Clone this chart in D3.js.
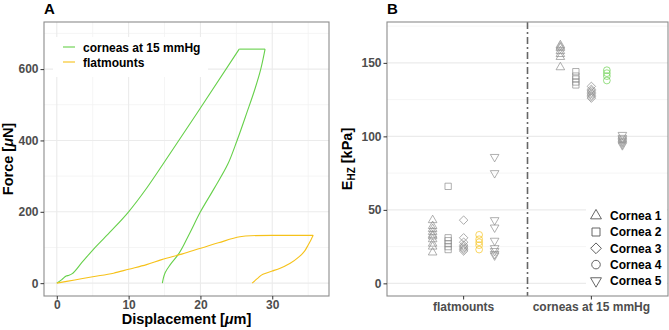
<!DOCTYPE html>
<html>
<head>
<meta charset="utf-8">
<script src="https://cdn.jsdelivr.net/npm/d3@7"></script>
<style>
  body { margin: 0; background: #fff; }
  svg { font-family: "Liberation Sans", Arial, sans-serif; }
</style>
</head>
<body>
<script>
// ---- panel A: force / displacement curves ----
// loading branches (displacement increasing)
const corneaLoadDisp = [0, 0.7, 1.3, 1.7, 2.1, 3.5, 5.1, 7.6, 10, 12.5, 14.8, 20, 25.4];
const corneaLoadForce = [0, 10, 20, 22, 26, 58, 95, 147, 200, 266, 334, 491, 656];
// unloading branches (listed from zero force up to the hold)
const corneaUnloadDisp = [14.7, 14.85, 15.1, 15.8, 16.9, 18.4, 20.0, 21.9, 23.8, 25.1, 26.5, 27.6, 28.4, 29.0];
const corneaUnloadForce = [0, 15, 30, 52, 80, 136, 200, 265, 333, 400, 480, 545, 600, 656];
const flatLoadDisp = [0, 2.5, 5, 7.9, 10, 12.5, 14.6, 17.5, 19.9, 22.5, 25.5, 27, 30, 35.7];
const flatLoadForce = [0, 9, 18, 28, 39, 52, 66, 82, 97, 113, 130, 133, 134, 134];
const flatUnloadDisp = [27.2, 28.0, 28.7, 30, 31.1, 32.5, 33.8, 34.5, 35.0, 35.4, 35.7];
const flatUnloadForce = [0, 14, 25, 34, 42, 56, 75, 90, 107, 122, 134];
const curveNames = ["corneas at 15 mmHg", "flatmounts"];
const curveColors = ["#66d04a", "#f6c21a"];

// ---- panel B: Hertz modulus per cornea ----
const groups = ["flatmounts", "corneas at 15 mmHg"];
const corneas = ["Cornea 1", "Cornea 2", "Cornea 3", "Cornea 4", "Cornea 5"];
const flatVals = [
  [43, 39, 37, 35, 33, 32, 30, 27, 25, 21],
  [66, 31, 29, 27, 25, 23],
  [43, 31, 28, 26, 25, 24, 23, 22],
  [33, 30, 28, 26, 23],
  [86, 75, 43, 38, 29, 24, 22, 20, 19]
];
const corneaVals = [
  [162, 161, 160, 158, 156, 154, 147],
  [144, 141, 139, 137, 135],
  [134, 132, 131, 130, 129, 128, 127, 126],
  [145, 143, 141, 138],
  [101, 99, 98, 97, 96, 95, 94]
];

const W = 669, H = 330;
const svg = d3.select("body").append("svg").attr("width", W).attr("height", H);

const gridMajor = "#ebebeb", gridMinor = "#f3f3f3", border = "#8c8c8c";
const tickFont = "bold 12px 'Liberation Sans', Arial, sans-serif";
const titleFont = "bold 14.5px 'Liberation Sans', Arial, sans-serif";

function styleAxis(g) {
  g.select(".domain").remove();
  g.selectAll(".tick line").attr("stroke", "#333").attr("stroke-width", 1);
  g.selectAll(".tick text").attr("fill", "#4d4d4d").style("font", tickFont);
}

// ================= Panel A =================
const A = { l: 44, r: 329, t: 22, b: 296 };
const xA = d3.scaleLinear().domain([-1.78, 37.9]).range([A.l, A.r]);
const yA = d3.scaleLinear().domain([-36, 732]).range([A.b, A.t]);

const gA = svg.append("g");
gA.selectAll(".vminor").data([5, 15, 25, 35]).enter().append("line")
  .attr("x1", d => xA(d)).attr("x2", d => xA(d)).attr("y1", A.t).attr("y2", A.b)
  .attr("stroke", gridMinor).attr("stroke-width", 0.8);
gA.selectAll(".hminor").data([100, 300, 500, 700]).enter().append("line")
  .attr("y1", d => yA(d)).attr("y2", d => yA(d)).attr("x1", A.l).attr("x2", A.r)
  .attr("stroke", gridMinor).attr("stroke-width", 0.8);
gA.selectAll(".vmajor").data([0, 10, 20, 30]).enter().append("line")
  .attr("x1", d => xA(d)).attr("x2", d => xA(d)).attr("y1", A.t).attr("y2", A.b)
  .attr("stroke", gridMajor).attr("stroke-width", 1.1);
gA.selectAll(".hmajor").data([0, 200, 400, 600]).enter().append("line")
  .attr("y1", d => yA(d)).attr("y2", d => yA(d)).attr("x1", A.l).attr("x2", A.r)
  .attr("stroke", gridMajor).attr("stroke-width", 1.1);

// curves: smooth loading / unloading branches joined by a straight hold segment
const loadLine = d3.line().x(d => xA(d[0])).y(d => yA(d[1])).curve(d3.curveMonotoneX);
const unloadLine = d3.line().x(d => xA(d[0])).y(d => yA(d[1])).curve(d3.curveMonotoneY);
const holdLine = d3.line().x(d => xA(d[0])).y(d => yA(d[1]));
const branches = [
  [d3.zip(corneaLoadDisp, corneaLoadForce), d3.zip(corneaUnloadDisp, corneaUnloadForce)],
  [d3.zip(flatLoadDisp, flatLoadForce), d3.zip(flatUnloadDisp, flatUnloadForce)]
];
branches.forEach(([load, unload], i) => {
  const hold = [load[load.length - 1], unload[unload.length - 1]];
  [[load, loadLine], [hold, holdLine], [unload, unloadLine]].forEach(([pts, gen]) => {
    gA.append("path").datum(pts).attr("d", gen)
      .attr("fill", "none").attr("stroke", curveColors[i]).attr("stroke-width", 1.1);
  });
});

gA.append("rect").attr("x", A.l).attr("y", A.t).attr("width", A.r - A.l).attr("height", A.b - A.t)
  .attr("fill", "none").attr("stroke", border).attr("stroke-width", 1.1);

// legend A
gA.append("rect").attr("x", 53).attr("y", 37).attr("width", 155).attr("height", 40).attr("fill", "#fff");
curveNames.forEach((n, i) => {
  const y = 47 + i * 15;
  gA.append("line").attr("x1", 63).attr("x2", 75).attr("y1", y).attr("y2", y)
    .attr("stroke", curveColors[i]).attr("stroke-width", 1.1);
  gA.append("text").attr("x", 83).attr("y", y + 4.5).text(n)
    .style("font", "bold 12px 'Liberation Sans', Arial, sans-serif").attr("fill", "#000");
});

gA.append("g").attr("transform", `translate(0,${A.b})`)
  .call(d3.axisBottom(xA).tickValues([0, 10, 20, 30]).tickSize(3.5).tickPadding(1))
  .call(styleAxis);
gA.append("g").attr("transform", `translate(${A.l},0)`)
  .call(d3.axisLeft(yA).tickValues([0, 200, 400, 600]).tickSize(3.5).tickPadding(2))
  .call(styleAxis);

gA.append("text").attr("x", 44).attr("y", 14).text("A").style("font", "bold 15px 'Liberation Sans', Arial, sans-serif");
const xlabA = gA.append("text").attr("x", (A.l + A.r) / 2).attr("y", 323.5)
  .attr("text-anchor", "middle").style("font", titleFont);
xlabA.append("tspan").text("Displacement [");
xlabA.append("tspan").text("μ").attr("font-style", "italic");
xlabA.append("tspan").text("m]");
const ylabA = gA.append("text").attr("transform", `translate(13,${(A.t + A.b) / 2}) rotate(-90)`)
  .attr("text-anchor", "middle").style("font", titleFont);
ylabA.append("tspan").text("Force [");
ylabA.append("tspan").text("μ").attr("font-style", "italic");
ylabA.append("tspan").text("N]");

// ================= Panel B =================
const B = { l: 387, r: 668, t: 22, b: 296 };
const xB = d3.scaleBand().domain(groups).range([B.l, B.r]).paddingOuter(0.1).paddingInner(0);
const xB0 = d => xB(d) + xB.bandwidth() / 2;
const dodge = d3.scalePoint().domain(corneas).range([-31, 31]);
const yB = d3.scaleLinear().domain([-8.6, 177.8]).range([B.b, B.t]);

const gB = svg.append("g");
gB.selectAll(".hminor").data([25, 75, 125, 175]).enter().append("line")
  .attr("y1", d => yB(d)).attr("y2", d => yB(d)).attr("x1", B.l).attr("x2", B.r)
  .attr("stroke", gridMinor).attr("stroke-width", 0.8);
gB.selectAll(".hmajor").data([0, 50, 100, 150]).enter().append("line")
  .attr("y1", d => yB(d)).attr("y2", d => yB(d)).attr("x1", B.l).attr("x2", B.r)
  .attr("stroke", gridMajor).attr("stroke-width", 1.1);

// symbols (ggplot shapes 2, 0, 5, 1, 6)
const symDefs = [
  { type: d3.symbolTriangle, size: 32, rot: 0 },
  { type: d3.symbolSquare, size: 40, rot: 0 },
  { type: d3.symbolSquare, size: 36, rot: 45 },
  { type: d3.symbolCircle, size: 36, rot: 0 },
  { type: d3.symbolTriangle, size: 32, rot: 180 }
];
const ptColor = (g, c) => c === 3 ? (g === 0 ? curveColors[1] : curveColors[0]) : "#8a8a8a";

[flatVals, corneaVals].forEach((vals, gi) => {
  vals.forEach((arr, ci) => {
    const s = symDefs[ci];
    gB.selectAll(null).data(arr).enter().append("path")
      .attr("d", d3.symbol().type(s.type).size(s.size))
      .attr("transform", d => `translate(${xB0(groups[gi]) + dodge(corneas[ci])},${yB(d)}) rotate(${s.rot})`)
      .attr("fill", "none").attr("stroke", ptColor(gi, ci))
      .attr("stroke-width", 0.8).attr("stroke-opacity", 0.85);
  });
});

// separator between the two groups
const sepX = (xB0(groups[0]) + xB0(groups[1])) / 2;
gB.append("line").attr("x1", sepX).attr("x2", sepX).attr("y1", B.t).attr("y2", B.b)
  .attr("stroke", "#666").attr("stroke-width", 1.6).attr("stroke-dasharray", "7,3,2,3");

gB.append("rect").attr("x", B.l).attr("y", B.t).attr("width", B.r - B.l).attr("height", B.b - B.t)
  .attr("fill", "none").attr("stroke", border).attr("stroke-width", 1.1);

// legend B
gB.append("rect").attr("x", 586).attr("y", 205).attr("width", 81).attr("height", 87).attr("fill", "#fff");
corneas.forEach((c, i) => {
  const y = 215.7 + i * 16.3;
  const s = symDefs[i];
  gB.append("path").attr("d", d3.symbol().type(s.type).size(s.size * 1.6))
    .attr("transform", `translate(596,${y}) rotate(${s.rot})`)
    .attr("fill", "none").attr("stroke", "#555").attr("stroke-width", 0.9);
  gB.append("text").attr("x", 610).attr("y", y + 4.3).text(c)
    .style("font", "bold 12px 'Liberation Sans', Arial, sans-serif").attr("fill", "#000");
});

gB.append("g").attr("transform", `translate(0,${B.b})`)
  .call(d3.axisBottom(xB).tickSize(3.5).tickPadding(3))
  .call(styleAxis);
gB.append("g").attr("transform", `translate(${B.l},0)`)
  .call(d3.axisLeft(yB).tickValues([0, 50, 100, 150]).tickSize(3.5).tickPadding(2))
  .call(styleAxis);

gB.append("text").attr("x", 387).attr("y", 14).text("B").style("font", "bold 15px 'Liberation Sans', Arial, sans-serif");
const ylabB = gB.append("text").attr("transform", `translate(352,${(B.t + B.b) / 2}) rotate(-90)`)
  .attr("text-anchor", "middle").style("font", titleFont);
ylabB.append("tspan").text("E");
ylabB.append("tspan").text("HZ").attr("font-size", "10px").attr("dy", 3);
ylabB.append("tspan").text(" [kPa]").attr("dy", -3);
</script>
</body>
</html>
